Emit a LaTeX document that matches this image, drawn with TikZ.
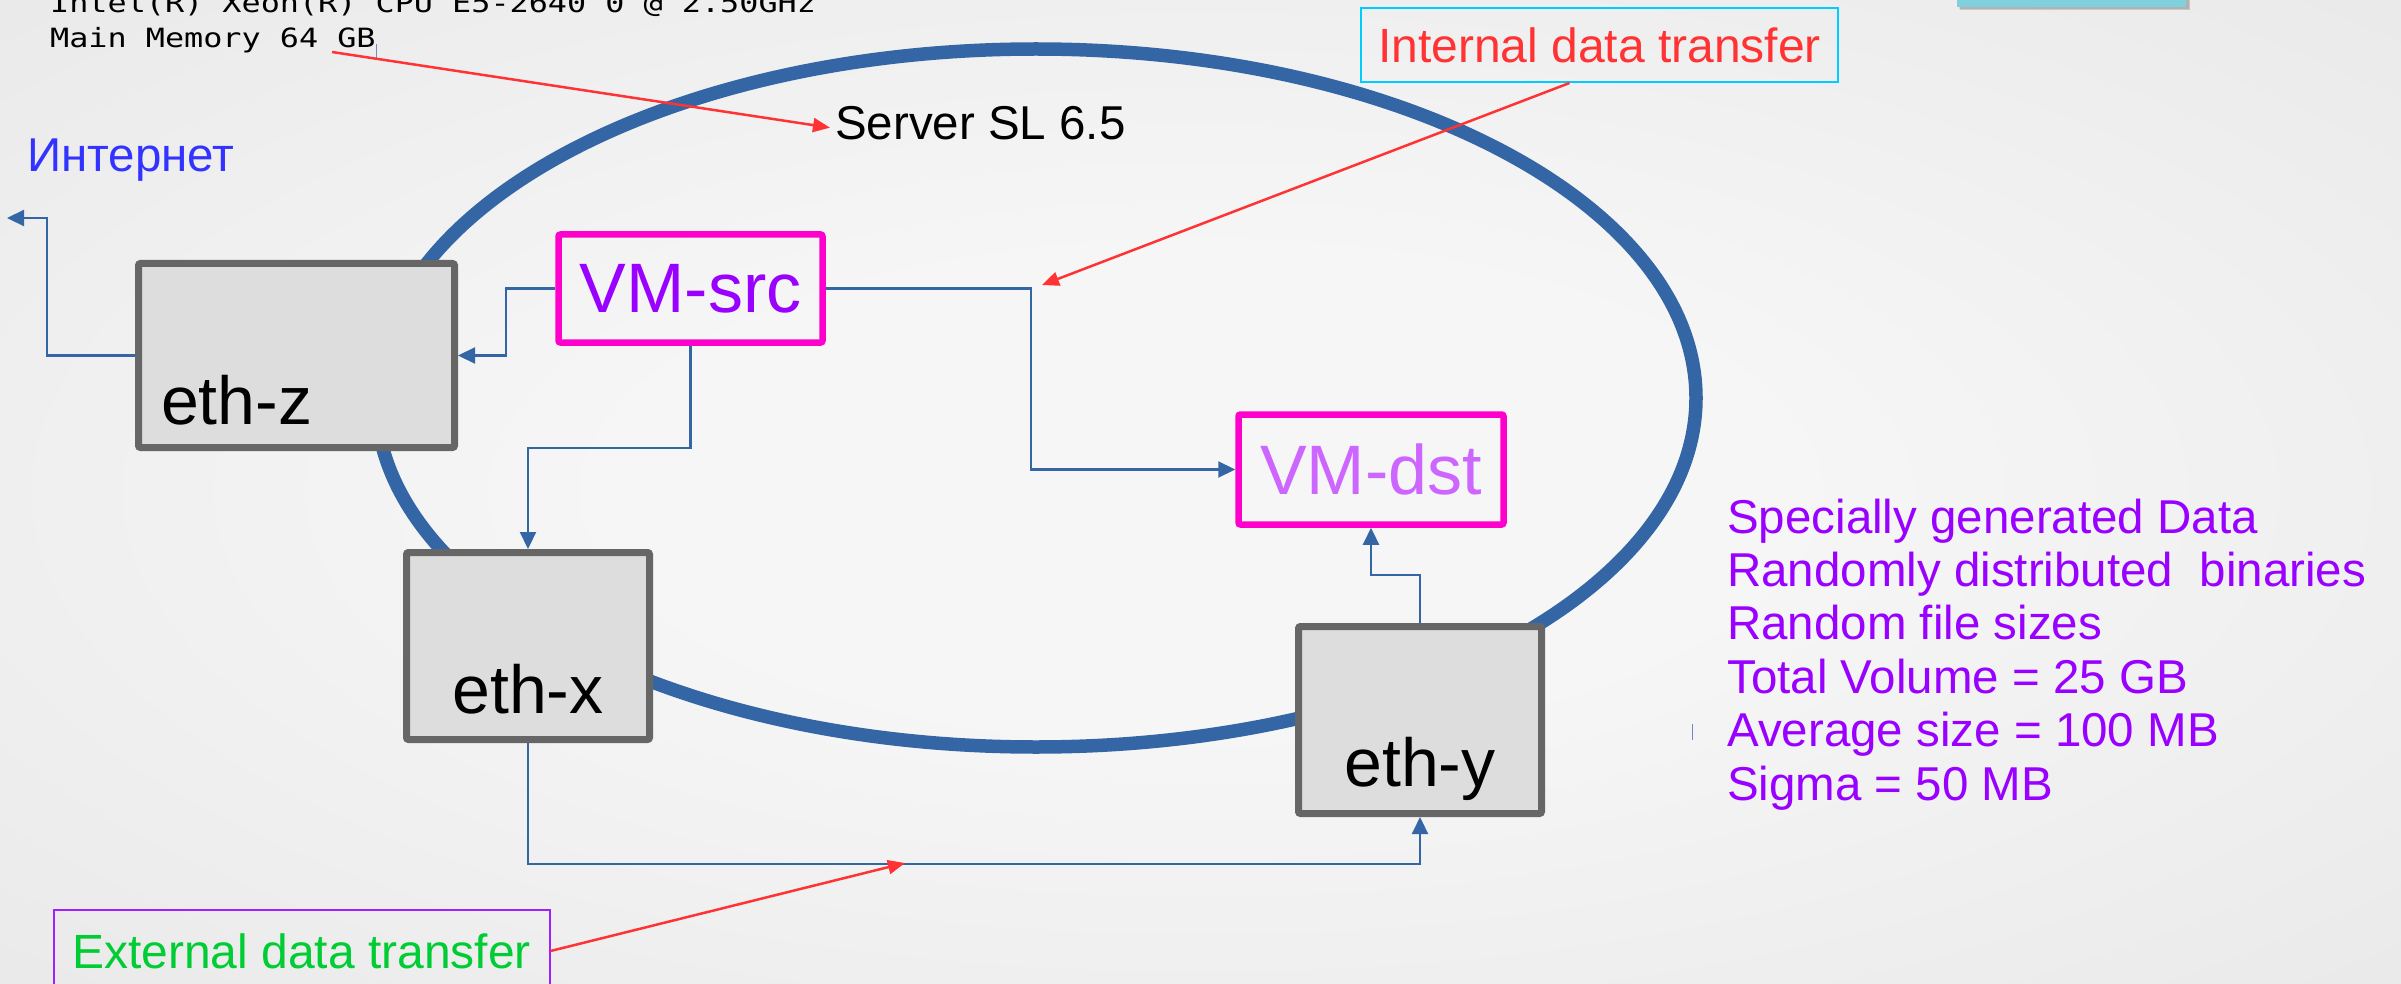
\documentclass[tikz,border=0pt]{standalone}
\usepackage{fontspec}
\setmainfont{Liberation Sans}
\newfontfamily\monofont[FakeStretch=1.2]{DejaVu Sans Mono}
\usetikzlibrary{arrows.meta}

\definecolor{bgin}{RGB}{246,246,246}
\definecolor{bgout}{RGB}{226,226,226}
\definecolor{ringblue}{RGB}{52,102,166}
\definecolor{ethfill}{RGB}{221,221,221}
\definecolor{ethline}{RGB}{102,102,102}
\definecolor{vmline}{RGB}{255,0,204}
\definecolor{vmsrctext}{RGB}{153,0,255}
\definecolor{vmdsttext}{RGB}{204,102,255}
\definecolor{infopurple}{RGB}{153,0,255}
\definecolor{notered}{RGB}{255,51,51}
\definecolor{notecyan}{RGB}{0,204,255}
\definecolor{notegreen}{RGB}{0,204,51}
\definecolor{noteviolet}{RGB}{160,32,255}
\definecolor{netblue}{RGB}{51,51,255}
\definecolor{tealbox}{RGB}{128,208,222}
\definecolor{caret}{RGB}{110,140,190}

\pgfdeclareradialshading{bgshade}{\pgfpoint{0bp}{0bp}}{color(0bp)=(bgin); color(12bp)=(bgin); color(50bp)=(bgout)}

\begin{document}
\begin{tikzpicture}[x=1pt,y=-1pt,
  ring/.style={draw=ringblue, line width=13.5pt},
  ethbox/.style={draw=ethline, fill=ethfill, line width=7pt, rounded corners=2pt,
    inner sep=0pt, font=\fontsize{68}{80}\selectfont, text=black},
  vmbox/.style={draw=vmline, line width=6.5pt, rounded corners=2pt, inner sep=0pt,
    font=\fontsize{70}{84}\selectfont},
  notebox/.style={line width=2pt, inner sep=0pt, font=\fontsize{48}{58}\selectfont},
  plain/.style={inner sep=0pt, anchor=base west},
  conn/.style={draw=ringblue, line width=2.2pt, -{Triangle[length=17pt,width=16pt]}},
  callout/.style={draw=notered, line width=2.5pt, -{Triangle[length=17pt,width=14pt]}},
  infotext/.style={plain, text=infopurple, font=\fontsize{47.5}{53}\selectfont},
  caretmark/.style={draw=caret, line width=1pt}
]
\useasboundingbox (0,0) rectangle (2401,984);
\clip (0,0) rectangle (2401,984);

% background
\shade[shading=bgshade] (0,0) rectangle (2401,984);

% teal box at the top right edge, with its shadow
\fill[black, opacity=0.15] (1960,-10) rectangle (2190,10.5);
\fill[black, opacity=0.10] (1959,-10) rectangle (2189,9);
\fill[tealbox] (1957,-10) rectangle (2186,7);

% server ring
\draw[ring] (1036,398) ellipse [x radius=660pt, y radius=349pt];

% host description
\node[plain, font=\monofont\fontsize{26.5}{32}\selectfont] (cpu) at (50,13) {Intel(R) Xeon(R) CPU E5-2640 0 @ 2.50GHz};
\node[plain, font=\monofont\fontsize{26.5}{32}\selectfont] (mem) at (50,48) {Main Memory 64 GB};
\coordinate (memtail) at (332,52);
\draw[caretmark] (376,44) -- (376,58);

\node[plain, font=\fontsize{47.5}{57}\selectfont] (server) at (835,140) {Server SL 6.5};
\node[plain, text=netblue, font=\fontsize{47.5}{57}\selectfont] (inet label) at (27,172) {Интернет};
\coordinate (inet) at (7,218);

% network interfaces
\node[ethbox, text width=271pt, align=left, inner xsep=22.5pt,
      text height=160.5pt, text depth=23.5pt] (ethz) at (296.5,355.5) {eth-z};
\node[ethbox, minimum width=243pt, text height=160.5pt, text depth=26.5pt] (ethx) at (528,646) {eth-x};
\node[ethbox, minimum width=243pt, text height=160pt, text depth=27pt] (ethy) at (1420,720) {eth-y};

% virtual machines
\node[vmbox, text=vmsrctext, minimum width=264pt, minimum height=108pt] (vmsrc) at (690.5,288.5) {VM-src};
\node[vmbox, text=vmdsttext, minimum width=265pt, minimum height=110pt] (vmdst) at (1371,469.5) {VM-dst};

% notes
\node[notebox, draw=notecyan, text=notered, minimum width=477pt, minimum height=74pt] (intbox) at (1599.5,45) {Internal data transfer};
\node[notebox, draw=noteviolet, text=notegreen, minimum width=496pt, minimum height=82pt] (extbox) at (301.5,951) {External data transfer};
\coordinate (inttip) at (1042,285);
\coordinate (exttip) at (905,863);

% data description
\foreach \txt [count=\i] in {Specially generated Data, {Randomly distributed\ \ binaries}, Random file sizes,
    Total Volume = 25 GB, Average size = 100 MB, Sigma = 50 MB}
  \node[infotext] (info\i) at (1727,{533+53.4*(\i-1)}) {\txt};
\draw[caretmark] (1692,724) -- (1692,740);

% data paths
\draw[conn] (ethz.west) -- ++(-88,0) |- (inet);
\draw[conn] (vmsrc.west) -- ++(-49,0) |- (ethz.east);
\draw[conn] (vmsrc.south) -- ++(0,102) -| (ethx.north);
\draw[conn] (vmsrc.east) -- ++(205,0) |- (vmdst.west);
\draw[conn] (ethy.north) -- ++(0,-48) -| (vmdst.south);
\draw[conn] (ethx.south) -- ++(0,121) -| (ethy.south);

% callouts
\draw[callout] (memtail) -- ([xshift=-5pt,yshift=-4pt]server.west);
\draw[callout] ([xshift=-30pt]intbox.south) -- (inttip);
\draw[callout] (extbox.east) -- (exttip);
\end{tikzpicture}
\end{document}
